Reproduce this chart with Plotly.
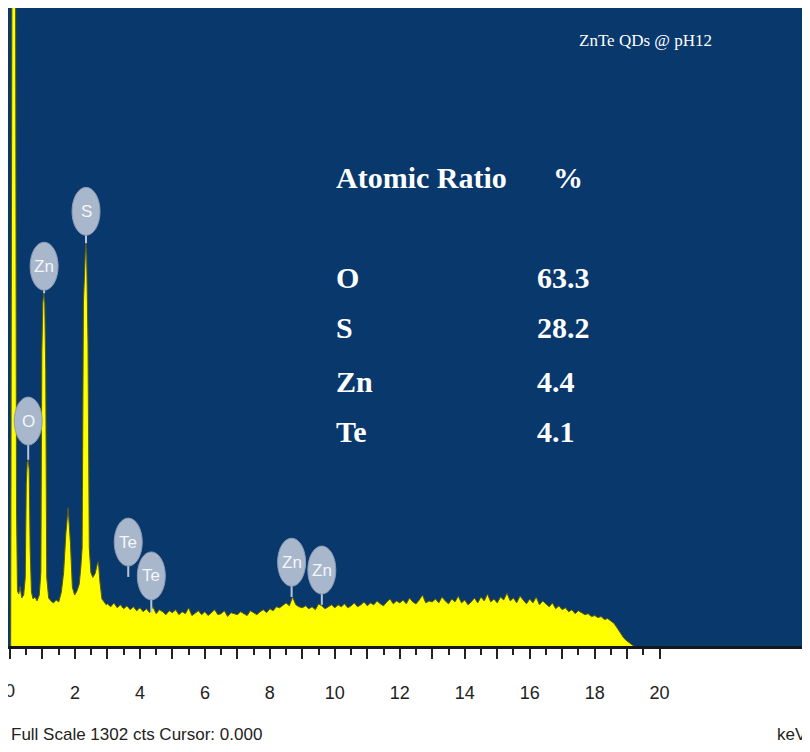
import plotly.graph_objects as go

# ---------------- data ----------------
# spectrum (energy in keV, counts)
peak_energy = [0.02, 0.06, 0.10, 0.17, 0.20, 0.23, 0.27, 0.31, 0.36, 0.42, 0.47, 0.50, 0.53, 0.56,
               0.59, 0.62, 0.66, 0.71, 0.77, 0.83, 0.90, 0.95, 0.98, 1.01, 1.04, 1.07, 1.10, 1.13,
               1.19, 1.26, 1.34, 1.42, 1.50, 1.58, 1.65, 1.72, 1.79, 1.86, 1.92, 1.99, 2.06, 2.13,
               2.18, 2.22, 2.26, 2.30, 2.33, 2.36, 2.40, 2.44, 2.49, 2.55, 2.62, 2.69, 2.72, 2.77,
               2.83, 2.90, 2.96]
peak_counts = [0, 1400, 1400, 1400, 280, 112, 106, 122, 98, 104, 140, 330, 375, 380,
               360, 200, 110, 96, 100, 92, 104, 150, 600, 700, 720, 700, 560, 140,
               98, 92, 88, 94, 90, 110, 150, 230, 282, 210, 120, 104, 112, 126,
               160, 200, 700, 800, 822, 800, 620, 200, 150, 140, 148, 168, 172, 130,
               96, 90, 84]

bg_start = 3.0   # keV, 0.1 keV channels
bg_counts = [86, 80, 88, 78, 84, 76, 82, 74, 80, 72,
             78, 70, 76, 68, 80, 66, 74, 70, 64, 72,
             68, 74, 64, 70, 66, 78, 62, 68, 72, 64,
             70, 62, 68, 74, 64, 66, 72, 60, 68, 66,
             64, 70, 66, 62, 72, 68, 64, 70, 74, 68,
             76, 72, 80, 78, 84, 88, 82, 100, 84, 80,
             78, 82, 76, 80, 74, 86, 82, 76, 80, 84,
             78, 84, 80, 86, 78, 82, 88, 80, 84, 90,
             82, 88, 84, 92, 86, 82, 90, 96, 86, 92,
             88, 94, 86, 98, 90, 86, 94, 104, 88, 92,
             90, 96, 88, 100, 92, 86, 96, 90, 102, 88,
             94, 84, 90, 98, 88, 100, 92, 106, 90, 96,
             88, 100, 94, 108, 92, 98, 88, 102, 94, 86,
             96, 88, 100, 84, 92, 86, 80, 88, 76, 82,
             74, 78, 70, 74, 66, 72, 68, 64, 66, 60,
             62, 58, 60, 54, 56, 50, 46, 36, 26, 16,
             10, 4, 0]

# element markers: name, energy, marker centre counts, peak top counts
mark_elem = ["O", "Zn", "S", "Te", "Te", "Zn", "Zn"]
mark_energy = [0.56, 1.05, 2.34, 3.64, 4.35, 8.67, 9.60]
mark_center = [459, 775, 887, 212, 143, 171, 155]
mark_peak = [380, 720, 822, 141, 69, 100, 84]

ratio_elem = ["O", "S", "Zn", "Te"]
ratio_value = ["63.3", "28.2", "4.4", "4.1"]

major_ticks = list(range(0, 21))
major_text = [str(v) if v % 2 == 0 else "" for v in major_ticks]
minor_ticks = [v + 0.5 for v in range(0, 20)]

full_scale = 1302

# ---------------- figure ----------------
energy = peak_energy + [round(bg_start + 0.1 * i, 2) for i in range(len(bg_counts))]
counts = peak_counts + bg_counts

# the page body adds an 8 px offset; figure covers window pixels 8..810 x 8..752
OFF = 8
W, H = 810 - OFF, 752 - OFF
L, R, T = 0, 0, 0
PLOT_BOTTOM = 646            # window pixel of the zero line
B = 752 - PLOT_BOTTOM
pw, ph = W - L - R, H - T - B

def px(x):  # window pixel -> paper x
    return (x - OFF - L) / pw

def py(y):  # window pixel -> paper y
    return (PLOT_BOTTOM - y) / ph

fig = go.Figure()
fig.add_trace(go.Scatter(
    x=energy, y=counts, mode="lines", fill="tozeroy",
    fillcolor="#ffff00", line=dict(color="#5a5a14", width=1),
    hoverinfo="skip", showlegend=False))

shapes = []
annotations = []
for e, c, p in zip(mark_energy, mark_center, mark_peak):
    shapes.append(dict(type="line", xref="x", yref="y", x0=e, x1=e, y0=p, y1=c,
                       line=dict(color="#b9c5d8", width=2), layer="above"))
for name, e, c in zip(mark_elem, mark_energy, mark_center):
    shapes.append(dict(type="circle", xref="x", yref="y", xsizemode="pixel", ysizemode="pixel",
                       xanchor=e, yanchor=c, x0=-14, x1=14, y0=-24, y1=24,
                       fillcolor="#a9b7cc", line=dict(color="#8c9cb5", width=1), layer="above"))
    annotations.append(dict(x=e, y=c, xref="x", yref="y", text=name, showarrow=False,
                            font=dict(family="Liberation Sans, Arial", size=17, color="#f4f6fa")))

serif = "Liberation Serif, Times New Roman, serif"
annotations.append(dict(x=px(645), y=py(41), xref="paper", yref="paper", text="ZnTe QDs @ pH12",
                        showarrow=False, xanchor="center", yanchor="middle",
                        font=dict(family=serif, size=17, color="#ffffff")))
annotations.append(dict(x=px(334), y=py(177), xref="paper", yref="paper", text="<b>Atomic Ratio</b>",
                        showarrow=False, xanchor="left", yanchor="middle",
                        font=dict(family=serif, size=30, color="#ffffff")))
annotations.append(dict(x=px(551), y=py(177), xref="paper", yref="paper", text="<b>%</b>",
                        showarrow=False, xanchor="left", yanchor="middle",
                        font=dict(family=serif, size=30, color="#ffffff")))
row_y = [277, 327, 381, 431]
for name, val, yy in zip(ratio_elem, ratio_value, row_y):
    annotations.append(dict(x=px(334), y=py(yy), xref="paper", yref="paper", text=f"<b>{name}</b>",
                            showarrow=False, xanchor="left", yanchor="middle",
                            font=dict(family=serif, size=30, color="#ffffff")))
    annotations.append(dict(x=px(535), y=py(yy), xref="paper", yref="paper", text=f"<b>{val}</b>",
                            showarrow=False, xanchor="left", yanchor="middle",
                            font=dict(family=serif, size=30, color="#ffffff")))

sans = "Liberation Sans, Arial"
# the "0" tick label sits on the left edge and is partly cut, as in the source
annotations.append(dict(x=major_ticks[0], y=py(691), xref="x", yref="paper", text=major_text[0],
                        showarrow=False, xanchor="center", yanchor="middle",
                        font=dict(family=sans, size=18, color="#222222")))
annotations.append(dict(x=px(9), y=py(734), xref="paper", yref="paper",
                        text=f"Full Scale {full_scale} cts Cursor: 0.000",
                        showarrow=False, xanchor="left", yanchor="middle",
                        font=dict(family=sans, size=17, color="#222222")))
annotations.append(dict(x=px(809), y=py(734), xref="paper", yref="paper", text="keV",
                        showarrow=False, xanchor="right", yanchor="middle",
                        font=dict(family=sans, size=17, color="#222222")))

fig.update_layout(
    width=W, height=H,
    margin=dict(l=L, r=R, t=T, b=B, pad=0),
    paper_bgcolor="#ffffff", plot_bgcolor="#08386c",
    shapes=shapes, annotations=annotations, showlegend=False,
    xaxis=dict(range=[-0.062, 24.63], tickmode="array", tickvals=major_ticks, ticktext=major_text,
               ticks="outside", ticklen=10, tickwidth=1.5, tickcolor="#222222",
               minor=dict(tickmode="array", tickvals=minor_ticks, ticks="outside", ticklen=6,
                          tickwidth=1.5, tickcolor="#222222", showgrid=False),
               showgrid=False, zeroline=False, showline=True, linecolor="#14181c", linewidth=3,
               ticklabelstandoff=18,
               tickfont=dict(family=sans, size=18, color="#222222"), fixedrange=True),
    yaxis=dict(range=[0, full_scale], visible=False, showgrid=False, zeroline=False, fixedrange=True),
)

fig.write_html("out.html")
